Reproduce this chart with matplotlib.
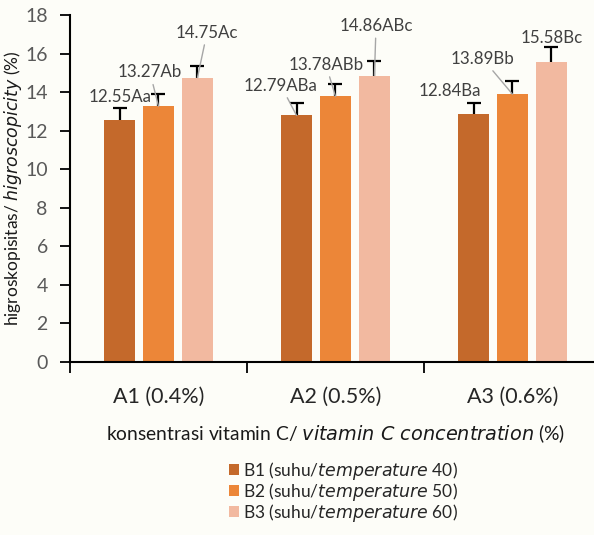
import numpy as np
import matplotlib
matplotlib.use('Agg')
import matplotlib.pyplot as plt

# data
groups  = ['A1 (0.4%)', 'A2 (0.5%)', 'A3 (0.6%)']
series  = ['B1', 'B2', 'B3']
temps   = [40, 50, 60]
b1_vals = [12.55, 12.79, 12.84]
b2_vals = [13.27, 13.78, 13.89]
b3_vals = [14.75, 14.86, 15.58]
b1_err  = [0.64, 0.64, 0.62]
b2_err  = [0.63, 0.65, 0.70]
b3_err  = [0.58, 0.77, 0.74]
b1_lbl  = ['12.55Aa', '12.79ABa', '12.84Ba']
b2_lbl  = ['13.27Ab', '13.78ABb', '13.89Bb']
b3_lbl  = ['14.75Ac', '14.86ABc', '15.58Bc']

# layout: label position (dx from group centre, y in data units), leader line on/off
lbl_pos = [[(-0.218, 13.76), (-0.308, 14.33), (-0.353, 14.08)],
           [(-0.048, 15.02), (-0.054, 15.42), (-0.167, 15.72)],
           [( 0.274, 17.08), ( 0.229, 17.43), ( 0.223, 16.80)]]
leader  = [[False, True, False],
           [True,  True, True],
           [True,  True, False]]

colors  = ['#C4692B', '#EC8638', '#F2B9A0']
offsets = [-0.22, 0.0, 0.22]
width   = 0.175
txt_col = '#404040'
bg      = '#FDFDF8'

plt.rcParams['font.family'] = ['Lato', 'DejaVu Sans']

fig = plt.figure(figsize=(5.94, 5.35), dpi=100, facecolor=bg)
ax = fig.add_axes([70/594, 1-362/535, 531/594, 347/535])
ax.set_facecolor(bg)

x = np.arange(len(groups))
vals = [b1_vals, b2_vals, b3_vals]
errs = [b1_err, b2_err, b3_err]
lbls = [b1_lbl, b2_lbl, b3_lbl]

for i in range(3):
    xs = x + offsets[i]
    ax.bar(xs, vals[i], width, color=colors[i], zorder=2,
           label=f'{series[i]} (suhu/$\\it{{temperature}}$ {temps[i]})')
    eb = ax.errorbar(xs, vals[i], yerr=[np.zeros(3), errs[i]], fmt='none',
                     ecolor='black', elinewidth=1.6, capsize=4.8, capthick=1.6, zorder=3)
    eb[1][0].set_visible(False)   # no lower cap
    for j in range(3):
        dx, ty = lbl_pos[i][j]
        props = dict(arrowstyle='-', color='#A6A6A6', lw=1.0,
                     shrinkA=1, shrinkB=0) if leader[i][j] else None
        ax.annotate(lbls[i][j], xy=(xs[j], vals[i][j]), xytext=(x[j] + dx, ty),
                    ha='center', va='center', fontsize=12.2, color=txt_col,
                    arrowprops=props, zorder=4)

ax.set_xlim(-0.5, 2.5)
ax.set_ylim(0, 18)
ax.set_yticks(np.arange(0, 19, 2))
ax.set_xticks(x)
ax.set_xticklabels(groups, fontsize=15.5, color='#262626')
ax.set_xticks(np.arange(-0.5, 3, 1), minor=True)
ax.tick_params(axis='x', which='major', length=0, pad=18)
ax.tick_params(axis='x', which='minor', length=8, width=1.3, direction='out')
ax.tick_params(axis='y', length=7, width=1.3, labelsize=14, labelcolor='#595959', pad=9)
for s in ['top', 'right']:
    ax.spines[s].set_visible(False)
for s in ['left', 'bottom']:
    ax.spines[s].set_linewidth(1.5)

ax.set_ylabel('higroskopisitas/ $\\it{higroscopicity}$ (%)', fontsize=12.5,
              color='#1a1a1a')
ax.yaxis.set_label_coords((24 - 70) / 531, 0.5)
fig.text(336/594, 1-434/535,
         'konsentrasi vitamin C/ $\\it{vitamin\\ C\\ concentration}$ (%)',
         ha='center', va='center', fontsize=13.9, color='#1a1a1a')

leg = fig.legend(loc='upper left', bbox_to_anchor=(220/594, 1-451/535),
                 frameon=False, fontsize=12.5, handlelength=0.6, handleheight=0.6,
                 handletextpad=0.2, labelspacing=-0.05, borderpad=0)
for t in leg.get_texts():
    t.set_color('#262626')

fig.savefig('out.png', dpi=100, facecolor=bg)
